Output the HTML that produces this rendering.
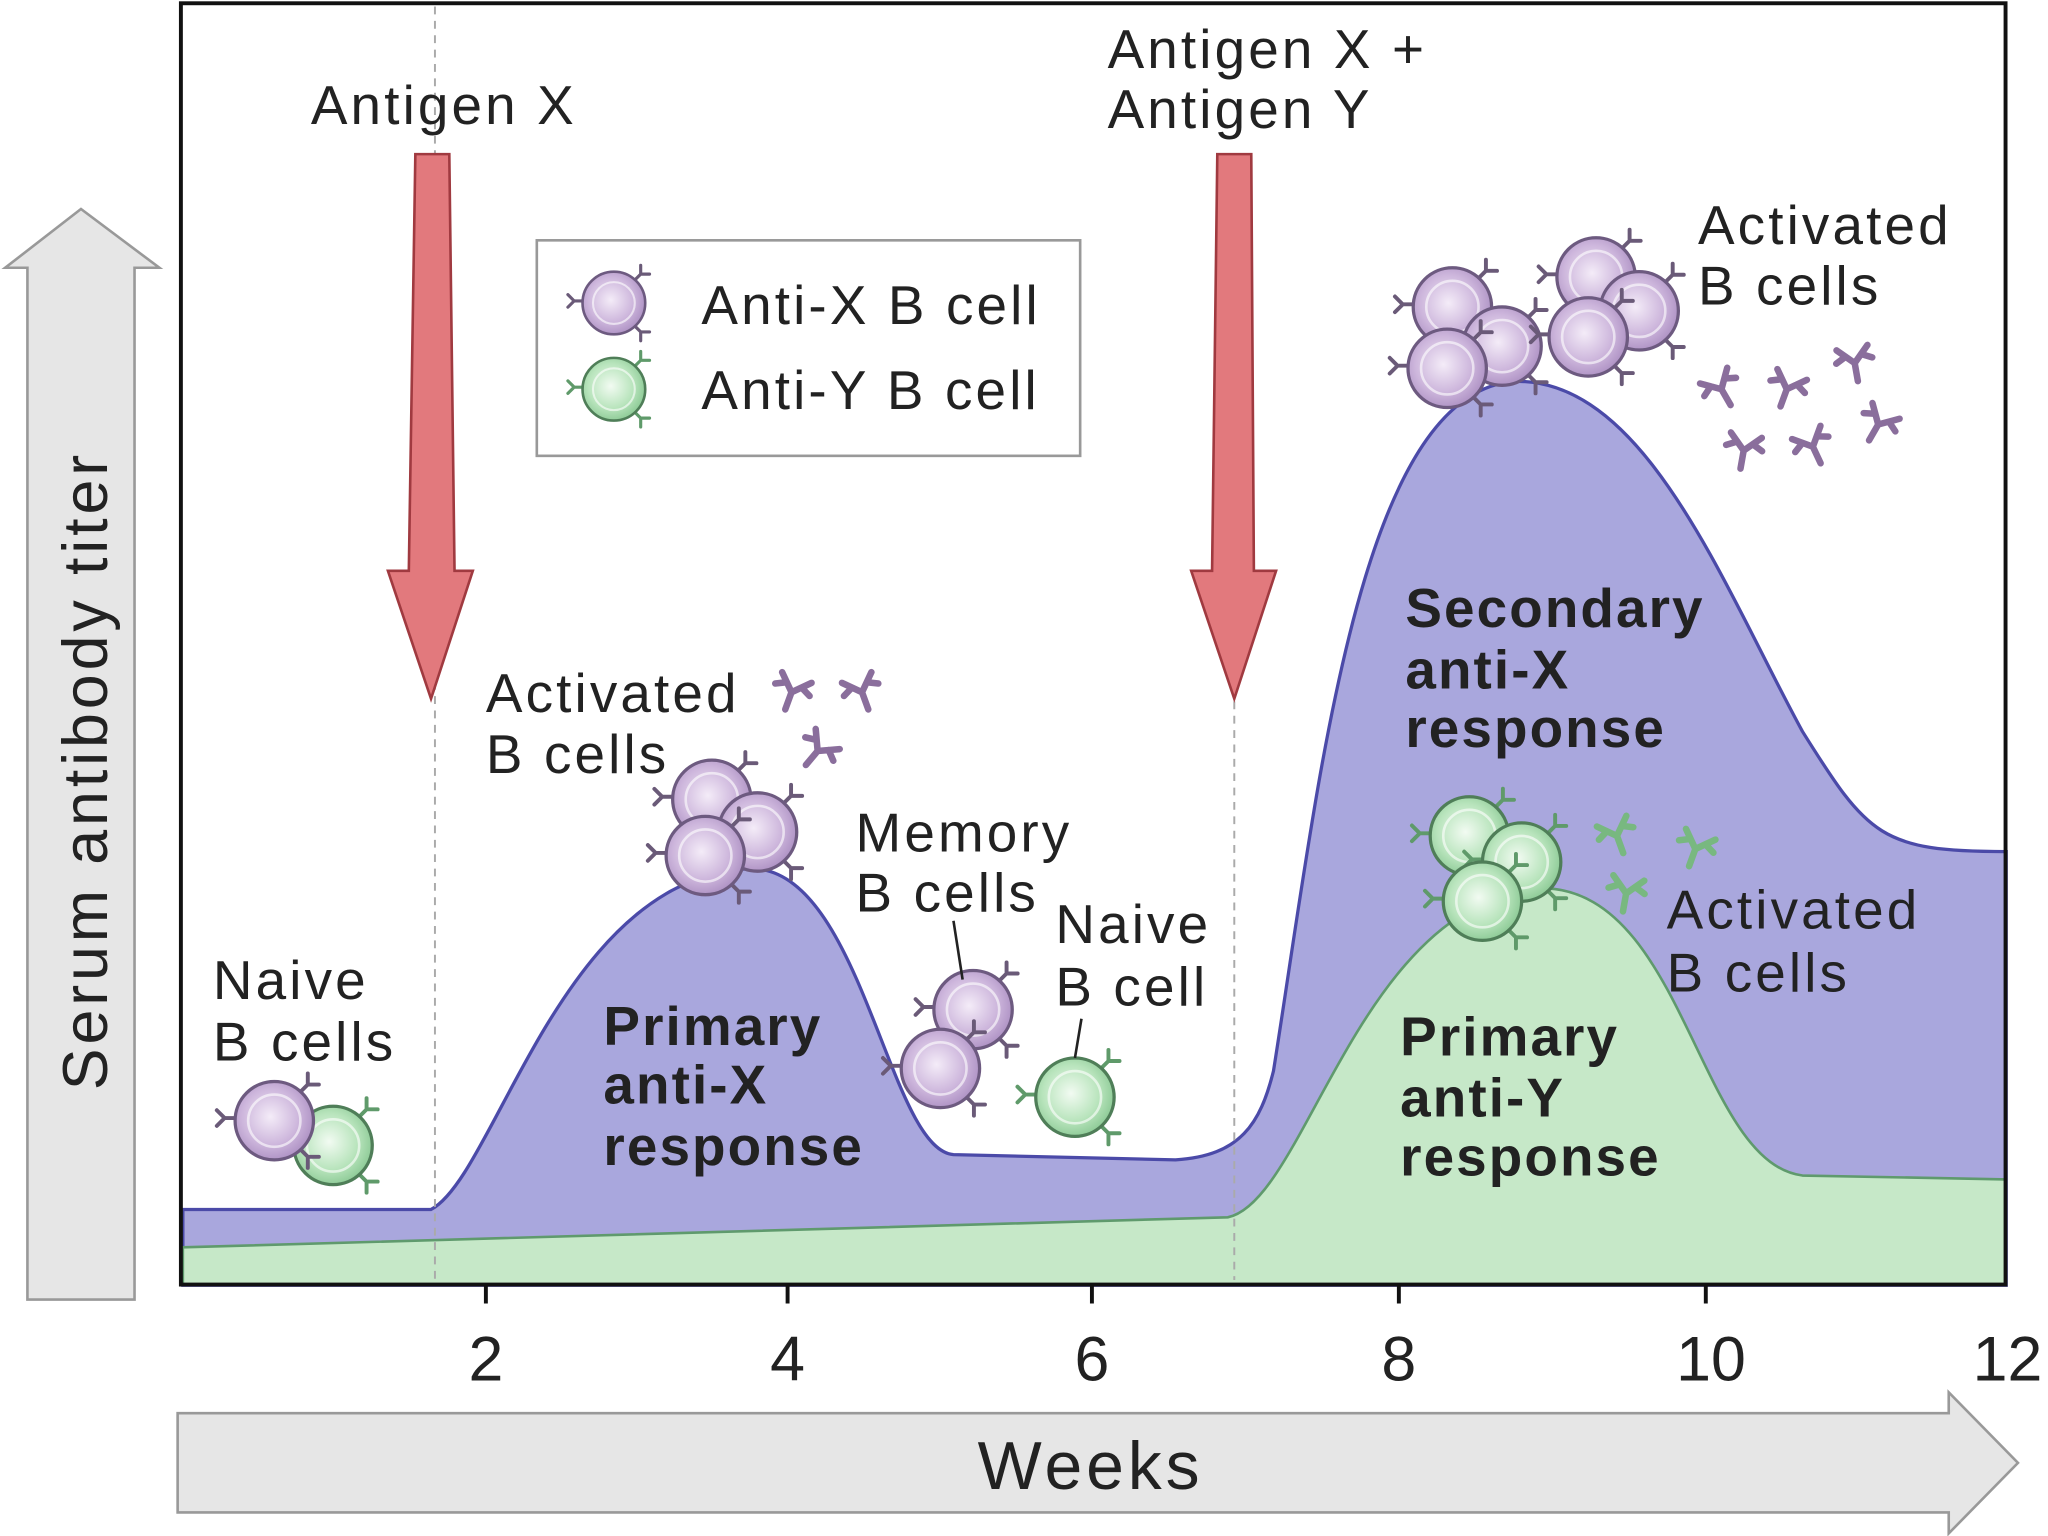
<!DOCTYPE html>
<html><head><meta charset="utf-8"><style>
html,body{margin:0;padding:0;background:#fff;}
svg{display:block;}
text{font-family:"Liberation Sans",sans-serif;fill:#222;}
.t{font-size:42px;letter-spacing:2.4px;}
.b{font-weight:bold;font-size:42px;letter-spacing:1.6px;}
</style></head><body>
<svg width="2048" height="1536" viewBox="0 0 1568 1176" xmlns="http://www.w3.org/2000/svg">
<defs>
<radialGradient id="gp" cx="0.45" cy="0.45" r="0.6"><stop offset="0" stop-color="#f4ecf8"/><stop offset="0.6" stop-color="#cdb6dc"/><stop offset="1" stop-color="#a98cc0"/></radialGradient>
<radialGradient id="gg" cx="0.45" cy="0.45" r="0.6"><stop offset="0" stop-color="#f2fbf2"/><stop offset="0.6" stop-color="#b8e4bc"/><stop offset="1" stop-color="#86c690"/></radialGradient>
<g id="ab"><path d="M0 0 L0 -8 M0 -8 L-6 -14 M0 -8 L6 -14" stroke="#6a5a78" stroke-width="3" fill="none" stroke-linecap="round"/></g>
<g id="abg"><path d="M0 0 L0 -8 M0 -8 L-6 -14 M0 -8 L6 -14" stroke="#5f9a6a" stroke-width="3" fill="none" stroke-linecap="round"/></g>
<g id="cp">
<use href="#ab" transform="translate(-30,-2) rotate(-90)"/>
<use href="#ab" transform="translate(20,-22) rotate(45)"/>
<use href="#ab" transform="translate(20,22) rotate(135)"/>
<circle r="30" fill="url(#gp)" stroke="#6d5a80" stroke-width="2.5"/>
<circle r="20" fill="none" stroke="#fff" stroke-width="2" opacity="0.6"/>
</g>
<g id="cg">
<use href="#abg" transform="translate(-30,-2) rotate(-90)"/>
<use href="#abg" transform="translate(20,-22) rotate(45)"/>
<use href="#abg" transform="translate(20,22) rotate(135)"/>
<circle r="30" fill="url(#gg)" stroke="#4f7e58" stroke-width="2.5"/>
<circle r="20" fill="none" stroke="#fff" stroke-width="2" opacity="0.6"/>
</g>
<g id="freep"><path d="M0 14 L0 0 M0 0 L-12 -12 M0 0 L12 -12 M-6 -6 L-14 -2 M6 -6 L14 -2" stroke="#8a6e9c" stroke-width="5" fill="none" stroke-linecap="round"/></g>
<g id="freeg"><path d="M0 14 L0 0 M0 0 L-12 -12 M0 0 L12 -12 M-6 -6 L-14 -2 M6 -6 L14 -2" stroke="#78b880" stroke-width="5" fill="none" stroke-linecap="round"/></g>
</defs>

<path d="M140 926 L330 926 C380 900 430 670 575 665 C660 665 680 880 730 884 L900 888 C950 885 965 860 975 820 C1010 600 1040 300 1160 292 C1260 290 1320 450 1380 560 C1430 640 1440 652 1536 652 L1536 984 L140 984 Z" fill="#a9a7dd" stroke="#4b4aa8" stroke-width="2.5"/>
<path d="M140 955 L940 932 C1000 920 1040 690 1180 680 C1290 680 1300 890 1380 900 L1536 903 L1536 984 L140 984 Z" fill="#c6e8c8" stroke="#5f9a6d" stroke-width="2"/>

<rect x="138.5" y="2.5" width="1397" height="981" fill="none" stroke="#111" stroke-width="3"/>
<line x1="333" y1="5" x2="333" y2="980" stroke="#aaa" stroke-width="1.5" stroke-dasharray="6,5"/>
<line x1="945" y1="130" x2="945" y2="980" stroke="#aaa" stroke-width="1.5" stroke-dasharray="6,5"/>
<g stroke="#111" stroke-width="3"><line x1="372" y1="984" x2="372" y2="998"/><line x1="603" y1="984" x2="603" y2="998"/><line x1="836" y1="984" x2="836" y2="998"/><line x1="1071" y1="984" x2="1071" y2="998"/><line x1="1306" y1="984" x2="1306" y2="998"/></g>
<g font-size="48" text-anchor="middle"><text x="372" y="1057">2</text><text x="603" y="1057">4</text><text x="836" y="1057">6</text><text x="1071" y="1057">8</text><text x="1310" y="1057">10</text><text x="1537" y="1057">12</text></g>

<path d="M21 995 L21 205 L4 205 L62 160 L122 205 L103 205 L103 995 Z" fill="#e6e6e6" stroke="#999" stroke-width="2"/>
<text transform="translate(82,590) rotate(-90)" font-size="48" letter-spacing="3" text-anchor="middle">Serum antibody titer</text>
<path d="M136 1082 L1492 1082 L1492 1066 L1545 1120 L1492 1174 L1492 1158 L136 1158 Z" fill="#e6e6e6" stroke="#999" stroke-width="2"/>
<text x="835" y="1140" font-size="52" letter-spacing="3" text-anchor="middle">Weeks</text>

<path d="M318 118 L344 118 L348 437 L362 437 L330 535 L297 437 L313 437 Z" fill="#e2797d" stroke="#a03a40" stroke-width="2"/>
<path d="M932 118 L958 118 L960 437 L977 437 L945 535 L912 437 L928 437 Z" fill="#e2797d" stroke="#a03a40" stroke-width="2"/>

<g class="t">
<text class="t" x="238" y="95">Antigen X</text>
<text class="t" x="848" y="52">Antigen X +</text>
<text class="t" x="848" y="98">Antigen Y</text>
<text class="t" x="1300" y="187">Activated</text><text class="t" x="1300" y="233">B cells</text>
<text class="t" x="372" y="545">Activated</text><text class="t" x="372" y="592">B cells</text>
<text class="t" x="655" y="652">Memory</text><text class="t" x="655" y="698">B cells</text>
<text class="t" x="808" y="722">Naive</text><text class="t" x="808" y="770">B cell</text>
<text class="t" x="163" y="765">Naive</text><text class="t" x="163" y="812">B cells</text>
<text class="t" x="1276" y="711">Activated</text><text class="t" x="1276" y="759">B cells</text>
</g>
<g>
<text x="462" y="800" class="b">Primary</text><text x="462" y="845" class="b">anti-X</text><text x="462" y="892" class="b">response</text>
<text x="1076" y="480" class="b">Secondary</text><text x="1076" y="527" class="b">anti-X</text><text x="1076" y="572" class="b">response</text>
<text x="1072" y="808" class="b">Primary</text><text x="1072" y="855" class="b">anti-Y</text><text x="1072" y="900" class="b">response</text>
</g>

<rect x="411" y="184" width="416" height="165" fill="#fff" stroke="#999" stroke-width="2"/>
<use href="#cp" transform="translate(470,232) scale(0.8)"/>
<use href="#cg" transform="translate(470,298) scale(0.8)"/>
<text class="t" x="537" y="248">Anti-X B cell</text>
<text class="t" x="537" y="313">Anti-Y B cell</text>

<use href="#cg" transform="translate(255,877)"/>
<use href="#cp" transform="translate(210,858)"/>
<use href="#cp" transform="translate(545,612)"/>
<use href="#cp" transform="translate(580,637)"/>
<use href="#cp" transform="translate(540,655)"/>
<use href="#freep" transform="translate(606,530) rotate(20)"/>
<use href="#freep" transform="translate(660,530) rotate(-20)"/>
<use href="#freep" transform="translate(626,575) rotate(40)"/>
<use href="#cp" transform="translate(745,773)"/>
<use href="#cp" transform="translate(720,818)"/>
<line x1="737" y1="750" x2="730" y2="705" stroke="#222" stroke-width="2"/>
<use href="#cg" transform="translate(823,840)"/>
<line x1="823" y1="810" x2="828" y2="780" stroke="#222" stroke-width="2"/>
<use href="#cp" transform="translate(1112,235)"/>
<use href="#cp" transform="translate(1150,265)"/>
<use href="#cp" transform="translate(1108,282)"/>
<use href="#cp" transform="translate(1222,212)"/>
<use href="#cp" transform="translate(1255,238)"/>
<use href="#cp" transform="translate(1216,258)"/>
<use href="#freep" transform="translate(1318,298) rotate(-30)"/>
<use href="#freep" transform="translate(1368,298) rotate(20)"/>
<use href="#freep" transform="translate(1420,278) rotate(-10)"/>
<use href="#freep" transform="translate(1335,345) rotate(10)"/>
<use href="#freep" transform="translate(1388,342) rotate(-25)"/>
<use href="#freep" transform="translate(1438,325) rotate(30)"/>
<use href="#cg" transform="translate(1125,640)"/>
<use href="#cg" transform="translate(1165,660)"/>
<use href="#cg" transform="translate(1135,690)"/>
<use href="#freeg" transform="translate(1238,640) rotate(-20)"/>
<use href="#freeg" transform="translate(1298,650) rotate(20)"/>
<use href="#freeg" transform="translate(1245,684) rotate(10)"/>
</svg>
</body></html>
